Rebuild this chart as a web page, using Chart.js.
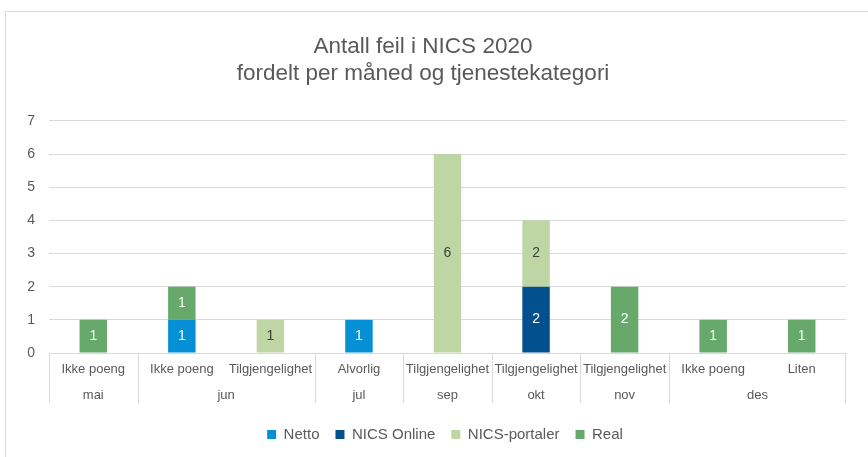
<!DOCTYPE html>
<html>
<head>
<meta charset="utf-8">
<script src="https://cdn.jsdelivr.net/npm/chart.js@4"></script>
<style>
  html, body { margin: 0; padding: 0; background: #fff; }
  #wrap { width: 868px; height: 457px; }
</style>
</head>
<body>
<div id="wrap"><canvas id="feil"></canvas></div>
<script>
const innerLabels = ['Ikke poeng', 'Ikke poeng', 'Tilgjengelighet', 'Alvorlig', 'Tilgjengelighet', 'Tilgjengelighet', 'Tilgjengelighet', 'Ikke poeng', 'Liten'];
const months = ['mai', 'jun', 'jun', 'jul', 'sep', 'okt', 'nov', 'des', 'des'];

const netto        = [null, 1, null, 1, null, null, null, null, null];
const nicsOnline   = [null, null, null, null, null, 2, null, null, null];
const nicsPortaler = [null, null, 1, null, 6, 2, null, null, null];
const real         = [1, 1, null, null, null, null, 2, 1, 1];

const yTicks = [0, 1, 2, 3, 4, 5, 6, 7];

const grey = '#595959';
const lineGrey = '#d9d9d9';
const fam = '"Liberation Sans", Arial, sans-serif';

// outer frame
const frame = {
  id: 'frame',
  beforeDraw(chart) {
    const ctx = chart.ctx;
    ctx.save();
    ctx.strokeStyle = lineGrey;
    ctx.lineWidth = 1;
    ctx.strokeRect(5.5, 11.5, 900, 500);
    ctx.restore();
  }
};

// legend sits a bit right of centre (and a bit higher) in the original
const legendShift = {
  id: 'legendShift',
  afterLayout(chart) {
    const lg = chart.legend;
    if (lg) {
      lg.left += 22;
      lg.right += 22;
      lg.top -= 5;
      lg.bottom -= 5;
    }
  }
};

// month row + separators under the x axis
const monthAxis = {
  id: 'monthAxis',
  afterDraw(chart) {
    const x = chart.scales.x;
    const ctx = chart.ctx;
    const w = x.width / months.length;
    const top = x.top;
    const bottom = x.top + 50;
    ctx.save();
    ctx.strokeStyle = lineGrey;
    ctx.lineWidth = 1;
    ctx.fillStyle = grey;
    ctx.font = '13px ' + fam;
    ctx.textAlign = 'center';
    ctx.textBaseline = 'middle';
    let start = 0;
    for (let i = 1; i <= months.length; i++) {
      if (i === months.length || months[i] !== months[start]) {
        const x0 = x.getPixelForValue(start) - w / 2;
        const x1 = x.getPixelForValue(i - 1) + w / 2;
        ctx.beginPath();
        ctx.moveTo(Math.round(x0) + 0.5, top);
        ctx.lineTo(Math.round(x0) + 0.5, bottom);
        ctx.stroke();
        if (i === months.length) {
          ctx.beginPath();
          ctx.moveTo(Math.round(x1) - 0.5, top);
          ctx.lineTo(Math.round(x1) - 0.5, bottom);
          ctx.stroke();
        }
        ctx.fillText(months[start], (x0 + x1) / 2, top + 42);
        start = i;
      }
    }
    ctx.restore();
  }
};

// values inside the bars
const valueLabels = {
  id: 'valueLabels',
  afterDatasetsDraw(chart) {
    const ctx = chart.ctx;
    ctx.save();
    ctx.font = '14px ' + fam;
    ctx.textAlign = 'center';
    ctx.textBaseline = 'middle';
    chart.data.datasets.forEach((ds, di) => {
      const meta = chart.getDatasetMeta(di);
      meta.data.forEach((bar, i) => {
        const v = ds.data[i];
        if (v == null) return;
        ctx.fillStyle = ds.labelColor;
        ctx.fillText(String(v), bar.x, (bar.y + bar.base) / 2);
      });
    });
    ctx.restore();
  }
};

const config = {
  type: 'bar',
  data: {
    labels: innerLabels,
    datasets: [
      { label: 'Netto', data: netto, backgroundColor: '#0590d6', labelColor: '#ffffff' },
      { label: 'NICS Online', data: nicsOnline, backgroundColor: '#03508e', labelColor: '#ffffff' },
      { label: 'NICS-portaler', data: nicsPortaler, backgroundColor: '#bed6a3', labelColor: '#404040' },
      { label: 'Real', data: real, backgroundColor: '#66a96a', labelColor: '#ffffff' }
    ]
  },
  options: {
    responsive: true,
    maintainAspectRatio: false,
    animation: false,
    categoryPercentage: 1,
    barPercentage: 0.31,
    layout: { padding: { top: 33, right: 22, bottom: 0, left: 0 } },
    plugins: {
      title: {
        display: true,
        text: ['Antall feil i NICS 2020', 'fordelt per måned og tjenestekategori'],
        color: grey,
        font: { size: 22.5, family: fam, weight: 'normal', lineHeight: 1.22 },
        padding: { top: 0, bottom: 33 }
      },
      legend: {
        position: 'bottom',
        labels: {
          color: grey,
          boxWidth: 9,
          boxHeight: 9,
          padding: 16,
          font: { size: 15, family: fam }
        }
      },
      tooltip: { enabled: false }
    },
    scales: {
      x: {
        stacked: true,
        grid: { display: false, drawTicks: false },
        border: { color: lineGrey },
        ticks: {
          color: grey,
          font: { size: 13, family: fam },
          padding: 9,
          maxRotation: 0,
          autoSkip: false
        },
        afterFit(scale) { scale.height = 63; }
      },
      y: {
        stacked: true,
        min: 0,
        max: 7,
        afterBuildTicks(scale) { scale.ticks = yTicks.map(v => ({ value: v })); },
        grid: { color: lineGrey, drawTicks: false },
        border: { display: false },
        ticks: {
          color: grey,
          font: { size: 14, family: fam },
          padding: 14
        },
        afterFit(scale) { scale.width = 49; }
      }
    }
  },
  plugins: [frame, legendShift, monthAxis, valueLabels]
};

const feilChart = new Chart(document.getElementById('feil'), config);
</script>
</body>
</html>
